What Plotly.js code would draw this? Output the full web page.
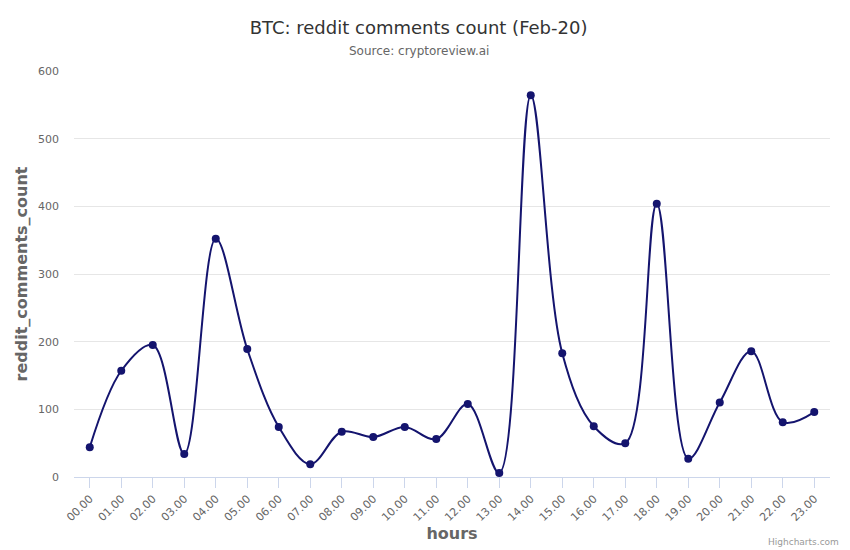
<!DOCTYPE html>
<html>
<head>
<meta charset="utf-8">
<script src="https://cdn.plot.ly/plotly-3.0.1.min.js"></script>
<style>html,body{margin:0;padding:0;background:#fff;}#chart{width:850px;height:550px;}</style>
</head>
<body>
<div id="chart"></div>
<script>
const hours = ["00.00","01.00","02.00","03.00","04.00","05.00","06.00","07.00","08.00","09.00","10.00","11.00","12.00","13.00","14.00","15.00","16.00","17.00","18.00","19.00","20.00","21.00","22.00","23.00"];
const comments = [44,157,195,34,352,189,74,19,67,59,74,56,108,6,564,183,75,50,404,27,110,186,81,96];
const yTicks = [0,100,200,300,400,500,600];

const font = "DejaVu Sans, Verdana, sans-serif";
const trace = {
  x: hours,
  y: comments,
  type: "scatter",
  mode: "lines+markers",
  line: {color: "#14146e", width: 2, shape: "spline", smoothing: 1},
  marker: {color: "#14146e", size: 8},
  hoverinfo: "x+y"
};
const layout = {
  width: 850, height: 550,
  margin: {l: 74, r: 20, t: 71, b: 73},
  paper_bgcolor: "#fff", plot_bgcolor: "#fff",
  font: {family: font, color: "#666"},
  showlegend: false,
  title: {text: "BTC: reddit comments count (Feb-20)", font: {family: font, size: 18, color: "#333"}, x: 0.4924, xanchor: "center", y: 0.949, yanchor: "middle"},
  annotations: [
    {text: "Source: cryptoreview.ai", xref: "paper", yref: "paper", x: 0.4563, y: 1, yshift: 20, xanchor: "center", yanchor: "middle", showarrow: false, font: {family: font, size: 12, color: "#666"}},
    {text: "Highcharts.com", xref: "paper", yref: "paper", x: 1, y: 0, xshift: 11, yshift: -65, xanchor: "right", yanchor: "middle", showarrow: false, font: {family: font, size: 9, color: "#999"}}
  ],
  xaxis: {
    type: "category",
    range: [-0.5, 23.5],
    tickangle: -45,
    tickfont: {family: font, size: 11, color: "#666"},
    showgrid: false,
    showline: true, linecolor: "#ccd6eb", linewidth: 1,
    ticks: "outside", ticklen: 10, tickcolor: "#ccd6eb",
    zeroline: false,
    title: {text: "<b>hours</b>", font: {family: font, size: 16, color: "#666"}, standoff: 3},
    fixedrange: true
  },
  yaxis: {
    range: [0, 600],
    tickvals: yTicks,
    ticktext: yTicks.map(String),
    tickfont: {family: font, size: 11, color: "#666"},
    showgrid: true, gridcolor: "#e6e6e6", gridwidth: 1,
    showline: false, zeroline: false,
    ticks: "", ticklabelstandoff: 14,
    title: {text: "<b>reddit_comments_count</b>", font: {family: font, size: 16, color: "#666"}, standoff: 6},
    fixedrange: true
  }
};
Plotly.newPlot("chart", [trace], layout, {displayModeBar: false});
</script>
</body>
</html>
